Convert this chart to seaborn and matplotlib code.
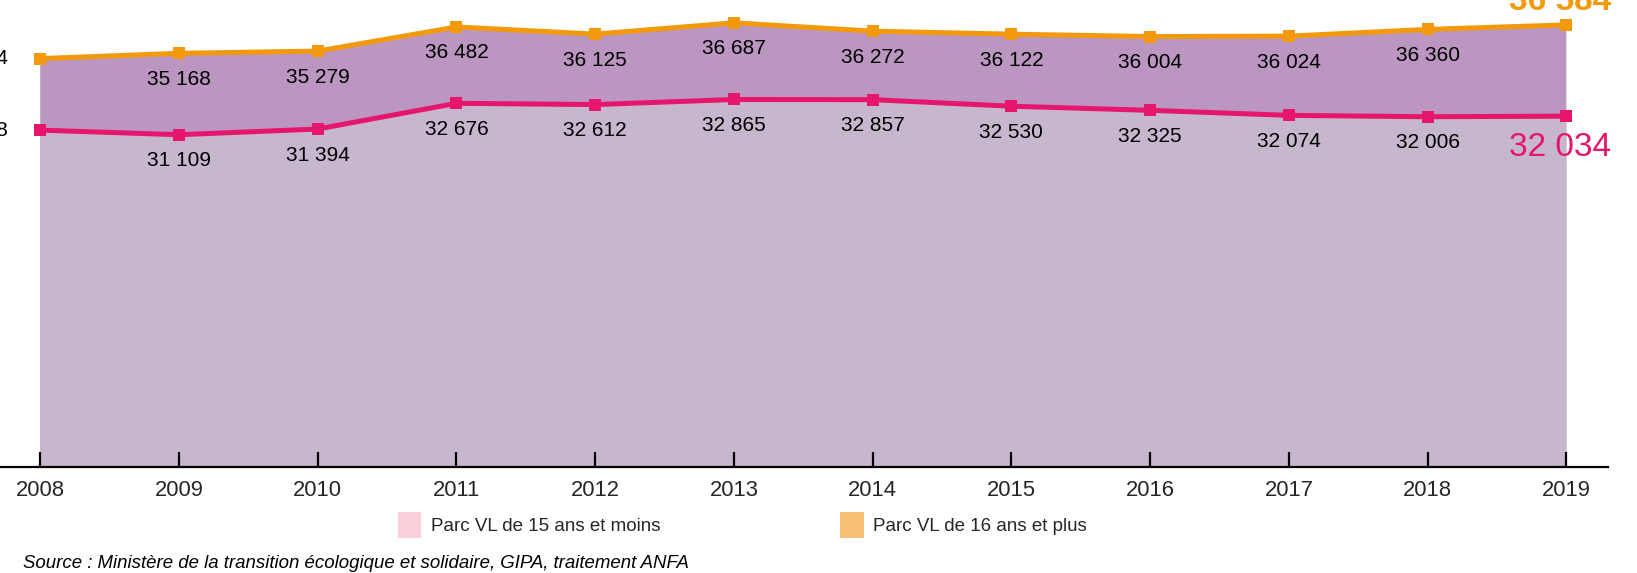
import pandas as pd
import matplotlib.pyplot as plt
import seaborn as sns
from matplotlib.patches import Patch

# --- Data (milliers de véhicules) ---
years = [2008, 2009, 2010, 2011, 2012, 2013, 2014, 2015, 2016, 2017, 2018, 2019]
parc_16_plus = [34904, 35168, 35279, 36482, 36125, 36687, 36272, 36122, 36004, 36024, 36360, 36584]
parc_15_moins = [31338, 31109, 31394, 32676, 32612, 32865, 32857, 32530, 32325, 32074, 32006, 32034]
legend_labels = ["Parc VL de 15 ans et moins", "Parc VL de 16 ans et plus"]
source = "Source : Ministère de la transition écologique et solidaire, GIPA, traitement ANFA"

df = pd.DataFrame({"annee": years, "plus16": parc_16_plus, "moins15": parc_15_moins})

# --- Style ---
sns.set_theme(style="white")
plt.rcParams["font.family"] = ["Liberation Sans", "DejaVu Sans"]

orange = "#F29A0C"
pink = "#E5166C"
band_top = "#BA96C0"
band_low = "#C6B6CE"

fig = plt.figure(figsize=(16.37, 5.73), dpi=100)
ax = fig.add_axes([0, 106 / 573, 1608 / 1637, 467 / 573])
ax.set_axisbelow(False)

# areas
ax.fill_between(df["annee"], 0, df["plus16"], color=band_top, lw=0, zorder=1)
ax.fill_between(df["annee"], 0, df["moins15"], color=band_low, lw=0, zorder=1)

# lines
sns.lineplot(data=df, x="annee", y="plus16", ax=ax, color=orange, lw=3.6,
             marker="s", markersize=8, markeredgewidth=0, zorder=4)
sns.lineplot(data=df, x="annee", y="moins15", ax=ax, color=pink, lw=3.6,
             marker="s", markersize=8, markeredgewidth=0, zorder=4)

ax.set_xlim(2007.71, 2019.30)
ax.set_ylim(14545, 37825)


def fmt(v):
    return f"{v:,}".replace(",", " ")


# value labels
for i, (yr, hi, lo) in enumerate(zip(years, parc_16_plus, parc_15_moins)):
    if i == 0:
        for v in (hi, lo):
            ax.annotate(fmt(v), (yr, v), xytext=(-32, 0), textcoords="offset pixels",
                        ha="right", va="center", fontsize=15, color="black")
    elif i == len(years) - 1:
        ax.annotate(fmt(hi), (yr, hi), xytext=(-6, 15), textcoords="offset pixels",
                    ha="center", va="baseline", fontsize=24, color=orange, fontweight="bold")
        ax.annotate(fmt(lo), (yr, lo), xytext=(-6, -31), textcoords="offset pixels",
                    ha="center", va="center", fontsize=24, color=pink)
    else:
        for v in (hi, lo):
            ax.annotate(fmt(v), (yr, v), xytext=(0, -26), textcoords="offset pixels",
                        ha="center", va="center", fontsize=15, color="black")

# axes cosmetics
for s in ["left", "right", "top"]:
    ax.spines[s].set_visible(False)
ax.spines["bottom"].set_color("black")
ax.spines["bottom"].set_linewidth(1.6)
ax.spines["bottom"].set_zorder(5)
ax.set_yticks([])
ax.set_xticks(years)
ax.set_xticklabels([str(y) for y in years])
ax.tick_params(axis="x", direction="in", length=11, width=1.6, color="black",
               labelsize=15.8, pad=9, bottom=True)
ax.set_xlabel("")
ax.set_ylabel("")
ax.grid(False)

# legend
handles = [Patch(facecolor="#F9D0DA", edgecolor="none"),
           Patch(facecolor="#F8C274", edgecolor="none")]
fig.legend(handles, legend_labels, loc="center left", bbox_to_anchor=(398 / 1637, 1 - 525 / 573),
           ncol=2, frameon=False, fontsize=13.5, handlelength=1.25, handleheight=1.7,
           handletextpad=0.5, columnspacing=9.6, borderpad=0, borderaxespad=0)

fig.text(23 / 1637, 1 - 564 / 573, source, ha="left", va="center",
         fontsize=13.4, style="italic", color="black")

plt.savefig("out.png", dpi=100)
